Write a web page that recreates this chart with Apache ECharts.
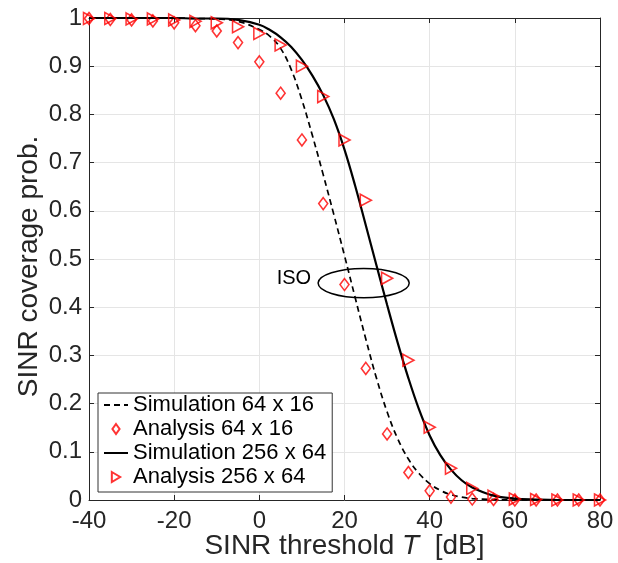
<!DOCTYPE html>
<html>
<head>
<meta charset="utf-8">
<script src="https://cdn.jsdelivr.net/npm/echarts@6/dist/echarts.min.js"></script>
<style>
html,body{margin:0;padding:0;background:#fff;}
#chart{width:618px;height:563px;}
</style>
</head>
<body>
<div id="chart"></div>
<script>
// ---- data ----
const xAnalysis = [-40,-35,-30,-25,-20,-15,-10,-5,0,5,10,15,20,25,30,35,40,45,50,55,60,65,70,75,80];
const analysis64 = [0.999,0.997,0.996,0.994,0.990,0.984,0.973,0.949,0.909,0.844,0.747,0.615,0.447,0.273,0.137,0.057,0.019,0.006,0.002,0.001,0,0,0,0,0];
const analysis256 = [0.999,0.999,0.998,0.998,0.996,0.993,0.990,0.982,0.968,0.944,0.900,0.837,0.747,0.622,0.460,0.290,0.151,0.066,0.024,0.008,0.002,0.001,0,0,0];

const xSim = [-40,-35,-30,-25,-20,-15,-10,-5,0,2.5,5,7.5,10,12.5,15,17.5,20,22.5,25,27.5,30,32.5,35,37.5,40,42.5,45,47.5,50,55,60,65,70,75,80];
const sim64 = [1,1,1,1,1,0.999,0.998,0.993,0.976,0.962,0.937,0.893,0.83,0.755,0.675,0.592,0.507,0.42,0.334,0.253,0.183,0.127,0.085,0.055,0.034,0.02,0.011,0.006,0.003,0.001,0,0,0,0,0];
const sim256 = [1,1,1,1,1,0.999,0.999,0.996,0.986,0.975,0.96,0.94,0.913,0.88,0.84,0.79,0.727,0.652,0.57,0.487,0.405,0.326,0.253,0.188,0.134,0.093,0.063,0.041,0.026,0.009,0.003,0.001,0,0,0];

const seriesNames = ['Simulation 64 x 16','Analysis 64 x 16','Simulation 256 x 64','Analysis 256 x 64'];
const xTicks = {min:-40, max:80, interval:20};
const yTicks = {min:0, max:1, interval:0.1};
const isoLabel = 'ISO';
const isoEllipse = [[24.5, 0.45, 10.7, 0.0305]]; // center x, center y, half-width, half-height (data units)

// ---- chart ----
const FONT = 'Liberation Sans, Arial, Helvetica, sans-serif';
const AX = '#262626';
const zip = (xs, ys) => xs.map((x,i)=>[x, ys[i]]);

const chart = echarts.init(document.getElementById('chart'), null, {renderer:'canvas'});

const diamondPath = 'path://M5,0L10,7L5,14L0,7Z';
const trianglePath = 'path://M0,0L10,6L0,12Z';

const baseX = {
  type:'value', min:xTicks.min, max:xTicks.max, interval:xTicks.interval,
  axisLine:{show:true, onZero:false, lineStyle:{color:AX, width:1}},
  axisTick:{show:true, inside:true, length:5, lineStyle:{color:AX}},
};
const baseY = {
  type:'value', min:yTicks.min, max:yTicks.max, interval:yTicks.interval,
  axisLine:{show:true, onZero:false, lineStyle:{color:AX, width:1}},
  axisTick:{show:true, inside:true, length:5, lineStyle:{color:AX}},
};

const hiddenSymbol = {color:'rgba(0,0,0,0)', borderColor:'rgba(0,0,0,0)', borderWidth:0, opacity:0};

chart.setOption({
  animation:false,
  backgroundColor:'#fff',
  textStyle:{fontFamily:FONT},
  grid:{left:89, right:18, top:18, bottom:63, containLabel:false, outerBoundsMode:'none'},
  xAxis:[
    Object.assign({}, baseX, {
      position:'bottom',
      axisLabel:{color:AX, fontSize:24, fontFamily:FONT, margin:9},
      splitLine:{show:true, lineStyle:{color:'#e5e5e5', width:1}},
      name:'SINR threshold {i|T}  [dB]',
      nameLocation:'middle', nameGap:32, nameMoveOverlap:false,
      nameTextStyle:{color:AX, fontSize:28, fontFamily:FONT,
        rich:{i:{fontStyle:'italic', fontSize:28, fontFamily:FONT, color:AX}}}
    }),
    Object.assign({}, baseX, {
      position:'top', axisLabel:{show:false}, splitLine:{show:false}
    })
  ],
  yAxis:[
    Object.assign({}, baseY, {
      position:'left',
      axisLabel:{color:AX, fontSize:24, fontFamily:FONT, margin:7},
      splitLine:{show:true, lineStyle:{color:'#e5e5e5', width:1}},
      name:'SINR coverage prob.',
      nameLocation:'middle', nameGap:46, nameMoveOverlap:false,
      nameTextStyle:{color:AX, fontSize:28, fontFamily:FONT, padding:[0,15,0,0]}
    }),
    Object.assign({}, baseY, {
      position:'right', axisLabel:{show:false}, splitLine:{show:false}
    })
  ],
  legend:{
    orient:'vertical', left:98, top:393,
    data:[
      {name:seriesNames[0], itemStyle:hiddenSymbol},
      {name:seriesNames[1]},
      {name:seriesNames[2], itemStyle:hiddenSymbol},
      {name:seriesNames[3]}
    ],
    itemWidth:24, itemHeight:10, itemGap:0,
    padding:[0,6,3,5],
    backgroundColor:'#fff',
    borderColor:'#333', borderWidth:1, borderRadius:0,
    textStyle:{color:'#000', fontSize:22, fontFamily:FONT, lineHeight:24},
    selectedMode:false
  },
  series:[
    {
      name:seriesNames[0], type:'line', data:zip(xSim, sim64),
      smooth:0.4, symbol:'none', showSymbol:false, clip:false,
      lineStyle:{color:'#000', width:1.7, type:[6,4]}, itemStyle:{color:'#000'}, z:2
    },
    {
      name:seriesNames[1], type:'scatter', data:zip(xAnalysis, analysis64),
      symbol:diamondPath, symbolSize:[9,12], clip:false,
      itemStyle:{color:'rgba(255,255,255,0)', borderColor:'#ff0000', borderWidth:1.6}, z:3
    },
    {
      name:seriesNames[2], type:'line', data:zip(xSim, sim256),
      smooth:0.4, symbol:'none', showSymbol:false, clip:false,
      lineStyle:{color:'#000', width:2.2, type:'solid'}, itemStyle:{color:'#000'}, z:4
    },
    {
      name:seriesNames[3], type:'scatter', data:zip(xAnalysis, analysis256),
      symbol:trianglePath, symbolSize:[11,12], clip:false,
      itemStyle:{color:'rgba(255,255,255,0)', borderColor:'#ff0000', borderWidth:1.6}, z:5
    },
    {
      name:'iso', type:'custom', data:isoEllipse, clip:false, z:6, silent:true,
      renderItem:function(params, api){
        const c = api.coord([api.value(0), api.value(1)]);
        const s = api.size([api.value(2), api.value(3)]);
        return {
          type:'group',
          children:[
            {type:'ellipse', shape:{cx:c[0], cy:c[1], rx:s[0], ry:s[1]},
             style:{fill:'none', stroke:'#000', lineWidth:1.5}},
            {type:'text', x:c[0]-s[0]-7, y:c[1]-5,
             style:{text:isoLabel, fill:'#000', font:'20px ' + FONT, align:'right', verticalAlign:'middle'}}
          ]
        };
      }
    }
  ]
});
</script>
</body>
</html>
